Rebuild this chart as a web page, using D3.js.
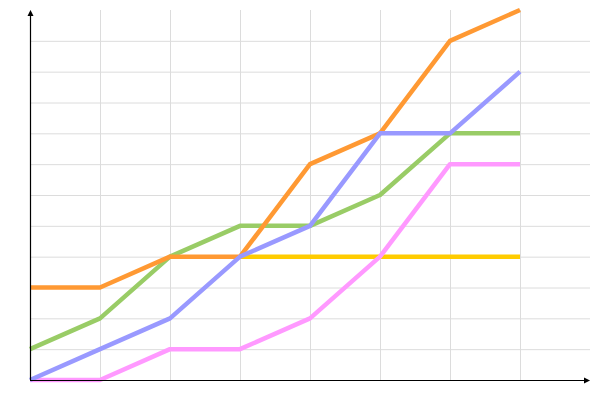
<!DOCTYPE html>
<html><head><meta charset="utf-8">
<script src="https://cdn.jsdelivr.net/npm/d3@7"></script>
<style>html,body{margin:0;padding:0;background:#fff;}svg{display:block;}</style>
</head><body>
<script>
const categories = [0, 1, 2, 3, 4, 5, 6, 7];
const yellow = [null, null, null, 4, 4, 4, 4, 4];
const pink   = [0, 0, 1, 1, 2, 4, 7, 7];
const green  = [1, 2, 4, 5, 5, 6, 8, 8];
const orange = [3, 3, 4, 4, 7, 8, 11, 12];
const blue   = [0, 1, 2, 4, 5, 8, 8, 10];
const series = [
  {name: "yellow", values: yellow, color: "#ffcc00"},
  {name: "pink", values: pink, color: "#ff99ff"},
  {name: "green", values: green, color: "#99cc66"},
  {name: "orange", values: orange, color: "#ff9933"},
  {name: "blue", values: blue, color: "#9999ff"}
];

const W = 600, H = 400;
const svg = d3.select("body").append("svg").attr("width", W).attr("height", H);
const x = d3.scaleLinear().domain([0, 8]).range([30, 590]);
const y = d3.scaleLinear().domain([0, 12]).range([380, 10]);

// grid
svg.append("g").attr("transform", "translate(0,380)")
  .call(d3.axisBottom(x).tickValues(d3.range(0, 8)).tickSize(-370).tickFormat(""))
  .call(g => { g.select(".domain").remove(); g.selectAll("line").attr("stroke", "#dcdcdc").attr("stroke-width", 1); });
svg.append("g").attr("transform", "translate(30,0)")
  .call(d3.axisLeft(y).tickValues(d3.range(0, 12)).tickSize(-560).tickFormat(""))
  .call(g => { g.select(".domain").remove(); g.selectAll("line").attr("stroke", "#dcdcdc").attr("stroke-width", 1); });

// lines
const line = d3.line().defined(d => d != null).x((d, i) => x(categories[i])).y(d => y(d));
series.forEach(s => {
  svg.append("path").datum(s.values)
    .attr("fill", "none").attr("stroke", s.color).attr("stroke-width", 4.5)
    .attr("stroke-linejoin", "round").attr("d", line);
});

// axes with arrows
svg.append("line").attr("x1", 30).attr("y1", 380.5).attr("x2", 588).attr("y2", 380.5).attr("stroke", "#000").attr("stroke-width", 1.2);
svg.append("line").attr("x1", 30.5).attr("y1", 380).attr("x2", 30.5).attr("y2", 12).attr("stroke", "#000").attr("stroke-width", 1.2);
svg.append("path").attr("d", "M590,380.5 L584,377.5 L584,383.5 Z").attr("fill", "#000");
svg.append("path").attr("d", "M30.5,10 L27.5,16 L33.5,16 Z").attr("fill", "#000");
</script>
</body></html>
